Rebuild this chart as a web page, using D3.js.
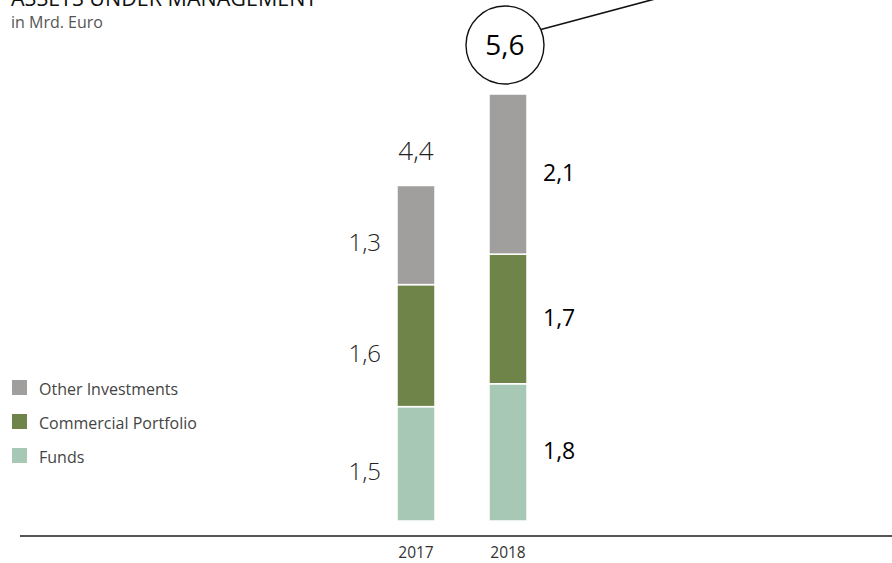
<!DOCTYPE html>
<html><head><meta charset="utf-8">
<script src="https://cdn.jsdelivr.net/npm/d3@7"></script>
<style>body{margin:0;background:#fff}svg{display:block;font-family:"Open Sans",sans-serif}</style>
</head><body><svg id="c" width="892" height="563"></svg>
<script>
const years = ["2017", "2018"];
const seriesNames = ["Funds", "Commercial Portfolio", "Other Investments"];
const funds = [1.5, 1.8];
const commercial = [1.6, 1.7];
const other = [1.3, 2.1];
const totals = [4.4, 5.6];
const totalLabels = ["4,4", "5,6"];
const colors = ["#a6c8b5", "#6f8449", "#a09f9d"];

const svg = d3.select("#c");
const data = years.map((y, i) => ({year: y, Funds: funds[i], "Commercial Portfolio": commercial[i], "Other Investments": other[i], total: totals[i]}));
const stack = d3.stack().keys(seriesNames)(data);

const x = d3.scaleBand().domain(years).range([397 - 0.3 * 92, 527 + 0.3 * 92]).paddingInner(54 / 92).paddingOuter(0.3);
const y = d3.scaleLinear().domain([0, 5.6]).range([521, 94]);
const color = d3.scaleOrdinal().domain(seriesNames).range(colors);
const fmt = v => String(v).replace(".", ",");

// bars
stack.forEach(s => {
  svg.append("g").selectAll("rect").data(s).join("rect")
    .attr("x", d => x(d.data.year))
    .attr("width", x.bandwidth())
    .attr("y", d => y(d[1]))
    .attr("height", d => y(d[0]) - y(d[1]))
    .attr("fill", color(s.key))
    .attr("stroke", "#fff").attr("stroke-width", 1.5);
});

// segment labels
stack.forEach(s => {
  svg.append("g").selectAll("text").data(s).join("text")
    .attr("x", (d, i) => i === 0 ? x(d.data.year) - 16 : x(d.data.year) + x.bandwidth() + 16)
    .attr("y", (d, i) => (y(d[0]) + y(d[1])) / 2 + (i === 0 ? 16 : 7))
    .attr("text-anchor", (d, i) => i === 0 ? "end" : "start")
    .attr("font-size", (d, i) => i === 0 ? 24 : 23)
    .attr("font-weight", (d, i) => i === 0 ? 300 : 400)
    .attr("fill", (d, i) => i === 0 ? "#222" : "#000")
    .text(d => fmt(+(d[1] - d[0]).toFixed(1)));
});

// total 2017
svg.append("text")
  .attr("x", x(years[0]) + x.bandwidth() / 2)
  .attr("y", y(totals[0]) - 26)
  .attr("text-anchor", "middle").attr("font-size", 26).attr("font-weight", 300).attr("fill", "#222")
  .text(totalLabels[0]);

// total 2018 in circle
const cx = x(years[1]) + x.bandwidth() / 2 - 3, cy = 45, r = 39;
svg.append("line").attr("x1", cx + r * 0.92).attr("y1", cy - r * 0.40).attr("x2", 655).attr("y2", -1)
  .attr("stroke", "#111").attr("stroke-width", 1.6);
svg.append("circle").attr("cx", cx).attr("cy", cy).attr("r", r).attr("fill", "#fff").attr("stroke", "#111").attr("stroke-width", 1.4);
svg.append("text").attr("x", cx).attr("y", cy + 10).attr("text-anchor", "middle")
  .attr("font-size", 28).attr("fill", "#000").text(totalLabels[1]);

// axis
svg.append("line").attr("x1", 20).attr("x2", 892).attr("y1", 536).attr("y2", 536)
  .attr("stroke", "#555").attr("stroke-width", 2);
const xAxis = svg.append("g").attr("transform", "translate(0,536)")
  .call(d3.axisBottom(x).tickSize(0).tickPadding(11));
xAxis.select(".domain").remove();
xAxis.selectAll("text").attr("font-size", 15.5).attr("font-family", "Open Sans, sans-serif").attr("fill", "#333");

// title
svg.append("text").attr("x", 11).attr("y", 6).attr("font-size", 21.5).attr("fill", "#111").text("ASSETS UNDER MANAGEMENT");
svg.append("text").attr("x", 11).attr("y", 28).attr("font-size", 16).attr("fill", "#555").text("in Mrd. Euro");

// legend
const legendItems = seriesNames.slice().reverse();
const lg = svg.append("g").selectAll("g").data(legendItems).join("g")
  .attr("transform", (d, i) => `translate(12,${380 + i * 34})`);
lg.append("rect").attr("width", 15).attr("height", 15).attr("fill", d => color(d));
lg.append("text").attr("x", 27).attr("y", 15).attr("font-size", 16).attr("fill", "#444").text(d => d);
</script></body></html>
